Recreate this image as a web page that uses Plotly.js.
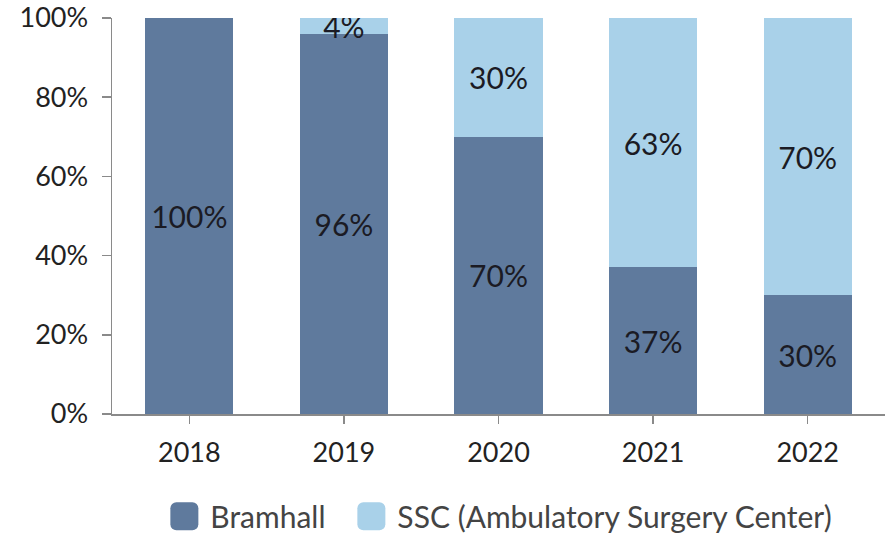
<!DOCTYPE html>
<html>
<head>
<meta charset="utf-8">
<script src="https://cdn.plot.ly/plotly-3.0.1.min.js"></script>
<style>html,body{margin:0;padding:0;background:#fff;}#chart{width:886px;height:534px;}</style>
</head>
<body>
<div id="chart"></div>
<script>
const years = ['2018', '2019', '2020', '2021', '2022'];
const bramhall = [100, 96, 70, 37, 30];
const ssc = [0, 4, 30, 63, 70];
const seriesNames = ['Bramhall', 'SSC (Ambulatory Surgery Center)'];
const yTicks = [0, 20, 40, 60, 80, 100];

const labelFont = {family: 'Lato, sans-serif', size: 30, color: '#1b1b24'};

function labels(arr) { return arr.map(v => v > 0 ? v + '%' : ''); }

const traces = [
  {
    type: 'bar', name: seriesNames[0], x: years, y: bramhall,
    marker: {color: '#5f7a9d'},
    text: labels(bramhall), textposition: 'inside', insidetextanchor: 'middle',
    constraintext: 'none', textfont: labelFont, hoverinfo: 'skip'
  },
  {
    type: 'bar', name: seriesNames[1], x: years, y: ssc,
    marker: {color: '#a9d1e9'},
    text: labels(ssc), textposition: 'inside', insidetextanchor: 'middle',
    constraintext: 'none', textfont: labelFont, hoverinfo: 'skip'
  }
];

const layout = {
  width: 886, height: 534,
  margin: {l: 112, r: 1, t: 18, b: 120, autoexpand: false},
  barmode: 'stack',
  bargap: 0.43,
  paper_bgcolor: '#fff', plot_bgcolor: '#fff',
  font: {family: 'Lato, sans-serif', color: '#222'},
  xaxis: {
    type: 'category', showgrid: false, showline: true, linecolor: '#8a8a8a', linewidth: 1.5,
    ticks: 'outside', ticklen: 8, tickcolor: '#8a8a8a', tickwidth: 1.5, ticklabelstandoff: 6,
    tickfont: {family: 'Lato, sans-serif', size: 27, color: '#222'}, zeroline: false
  },
  yaxis: {
    range: [0, 100], tickvals: yTicks, ticktext: yTicks.map(v => v + '%'),
    showgrid: false, showline: true, linecolor: '#8a8a8a', linewidth: 1.5,
    ticks: 'outside', ticklen: 9, tickcolor: '#8a8a8a', tickwidth: 1.5, ticklabelstandoff: 8,
    tickfont: {family: 'Lato, sans-serif', size: 27, color: '#222'}, zeroline: false,
    fixedrange: true
  },
  showlegend: true,
  legend: {
    orientation: 'h', x: 0.0755, xanchor: 'left', y: -0.258, yanchor: 'middle',
    font: {family: 'Lato, sans-serif', size: 30, color: '#444'},
    traceorder: 'normal', itemclick: false, itemdoubleclick: false
  }
};

Plotly.newPlot('chart', traces, layout, {staticPlot: true, displayModeBar: false}).then(() => {
  document.querySelectorAll('.legend .legendpoints path').forEach(p => {
    p.setAttribute('d', 'M-14,-14H2A6,6 0 0 1 8,-8V8A6,6 0 0 1 2,14H-14A6,6 0 0 1 -20,8V-8A6,6 0 0 1 -14,-14Z');
    p.style.strokeWidth = '0';
  });
  const items = document.querySelectorAll('.legend .traces');
  if (items.length > 1) {
    const m = /translate\(([-\d.]+)[ ,]+([-\d.]+)\)/.exec(items[0].getAttribute('transform') || '');
    if (m) {
      const x0 = parseFloat(m[1]), y0 = parseFloat(m[2]);
      items[1].setAttribute('transform', 'translate(' + (x0 + 187) + ',' + y0 + ')');
    }
  }
  const clip = document.querySelectorAll('.legend .scrollbox');
  clip.forEach(c => c.removeAttribute('clip-path'));
  const lg = document.querySelector('.legend');
  if (lg) lg.removeAttribute('clip-path');
});
</script>
</body>
</html>
